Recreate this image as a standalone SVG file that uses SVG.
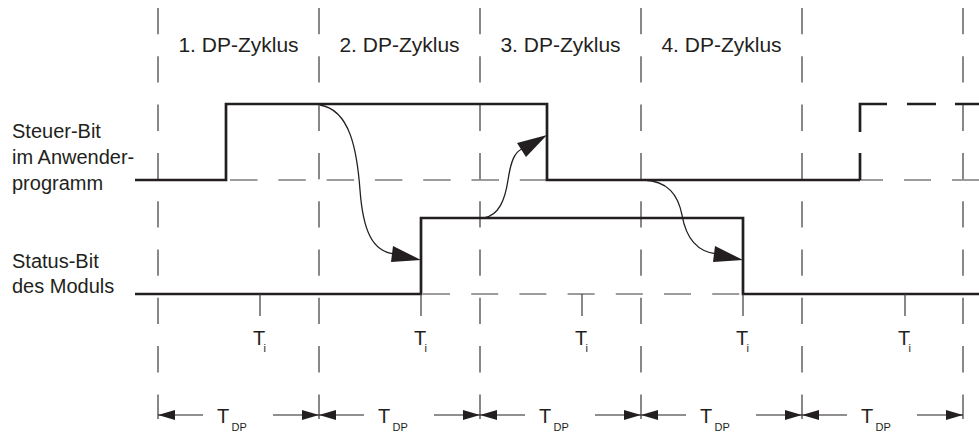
<svg xmlns="http://www.w3.org/2000/svg" width="979" height="432" viewBox="0 0 979 432">
  <style>
    text { font-family: "Liberation Sans", Arial, Helvetica, sans-serif; fill: #231f20; }
    .lbl { font-size: 20px; }
    .cap { font-size: 21px; }
    .sub { font-size: 11px; }
    .grid { stroke: #3a3a3a; stroke-width: 1.2; stroke-dasharray: 26.3 22; fill: none; }
    .ref { stroke: #3a3a3a; stroke-width: 1.2; fill: none; }
    .sig { stroke: #231f20; stroke-width: 2.7; fill: none; stroke-linejoin: miter; }
    .tick { stroke: #3a3a3a; stroke-width: 1.2; }
    .dim { stroke: #231f20; stroke-width: 1.2; marker-end: url(#ah); }
    .curve { stroke: #231f20; stroke-width: 1.3; fill: none; }
    .head { fill: #231f20; }
  </style>
  <defs>
    <marker id="ah" viewBox="0 0 17 10" refX="17" refY="5" markerWidth="17" markerHeight="10" markerUnits="userSpaceOnUse" orient="auto">
      <path d="M0,0 L17,5 L0,10 Z" fill="#231f20"/>
    </marker>
  </defs>
  <rect width="979" height="432" fill="#ffffff"/>

  <!-- cycle boundaries -->
  <g id="grid">
    <line class="grid" x1="158" y1="8" x2="158" y2="419"/>
    <line class="grid" x1="319" y1="8" x2="319" y2="419"/>
    <line class="grid" x1="480" y1="8" x2="480" y2="419"/>
    <line class="grid" x1="641" y1="8" x2="641" y2="419"/>
    <line class="grid" x1="802" y1="8" x2="802" y2="419"/>
    <line class="grid" x1="963" y1="8" x2="963" y2="419"/>
  </g>

  <!-- cycle captions -->
  <g id="cycles" text-anchor="middle">
    <text class="cap" x="238.5" y="52">1. DP-Zyklus</text>
    <text class="cap" x="399.5" y="52">2. DP-Zyklus</text>
    <text class="cap" x="560.5" y="52">3. DP-Zyklus</text>
    <text class="cap" x="721.5" y="52">4. DP-Zyklus</text>
  </g>

  <!-- control bit signal -->
  <g id="steuer-bit">
    <text class="lbl" x="12" y="138">Steuer-Bit</text>
    <text class="lbl" x="12" y="164">im Anwender-</text>
    <text class="lbl" x="12" y="190">programm</text>
    <path class="ref" d="M230,180 H547" stroke-dasharray="27.5 20.8"/>
    <path class="ref" d="M856,180 H979" stroke-dasharray="27 21"/>
    <path class="sig" d="M135,180 H226 V104 H547 V180 H860"/>
    <path class="sig" d="M860,180 V104 H979" stroke-dasharray="27 21 55 20 29 19 30"/>
  </g>

  <!-- module status bit signal -->
  <g id="status-bit">
    <text class="lbl" x="12" y="268">Status-Bit</text>
    <text class="lbl" x="12" y="293">des Moduls</text>
    <path class="ref" d="M423,294 H743" stroke-dasharray="27 21.2"/>
    <path class="sig" d="M135,294 H421 V218 H743 V294 H979"/>
  </g>

  <!-- Ti markers -->
  <g id="ti">
    <line class="tick" x1="260" y1="294" x2="260" y2="316"/>
    <line class="tick" x1="421" y1="294" x2="421" y2="316"/>
    <line class="tick" x1="582" y1="294" x2="582" y2="316"/>
    <line class="tick" x1="743" y1="294" x2="743" y2="316"/>
    <line class="tick" x1="905" y1="294" x2="905" y2="316"/>
    <text class="lbl" x="253" y="345">T</text><text class="sub" x="263.5" y="352">i</text>
    <text class="lbl" x="414" y="345">T</text><text class="sub" x="424.5" y="352">i</text>
    <text class="lbl" x="575" y="345">T</text><text class="sub" x="585.5" y="352">i</text>
    <text class="lbl" x="736" y="345">T</text><text class="sub" x="746.5" y="352">i</text>
    <text class="lbl" x="898" y="345">T</text><text class="sub" x="908.5" y="352">i</text>
  </g>

  <!-- TDP dimension arrows -->
  <g id="tdp">
    <line class="dim" x1="203" y1="415" x2="158" y2="415"/>
    <line class="dim" x1="273" y1="415" x2="319" y2="415"/>
    <line class="dim" x1="364" y1="415" x2="319" y2="415"/>
    <line class="dim" x1="434" y1="415" x2="480" y2="415"/>
    <line class="dim" x1="525" y1="415" x2="480" y2="415"/>
    <line class="dim" x1="595" y1="415" x2="641" y2="415"/>
    <line class="dim" x1="686" y1="415" x2="641" y2="415"/>
    <line class="dim" x1="756" y1="415" x2="802" y2="415"/>
    <line class="dim" x1="847" y1="415" x2="802" y2="415"/>
    <line class="dim" x1="917" y1="415" x2="963" y2="415"/>
    <text class="lbl" x="217" y="423">T</text><text class="sub" x="231.5" y="431">DP</text>
    <text class="lbl" x="378" y="423">T</text><text class="sub" x="392.5" y="431">DP</text>
    <text class="lbl" x="539" y="423">T</text><text class="sub" x="553.5" y="431">DP</text>
    <text class="lbl" x="700" y="423">T</text><text class="sub" x="714.5" y="431">DP</text>
    <text class="lbl" x="861" y="423">T</text><text class="sub" x="875.5" y="431">DP</text>
  </g>

  <!-- cause/effect connectors -->
  <g id="connectors">
    <path class="curve" d="M320,105 C350,110 357,150 360,190 C363,230 372,252 395,254"/>
    <polygon class="head" points="421,260 393,246 391,262"/>
    <path class="curve" d="M484,218 C499,215 505,200 508,180 C511,160 515,152 522,149"/>
    <polygon class="head" points="547,135 517,143 526,157"/>
    <path class="curve" d="M644,180 C668,181 678,195 682,215 C686,238 697,252 717,254"/>
    <polygon class="head" points="743,260 715,246 713,262"/>
  </g>
</svg>
